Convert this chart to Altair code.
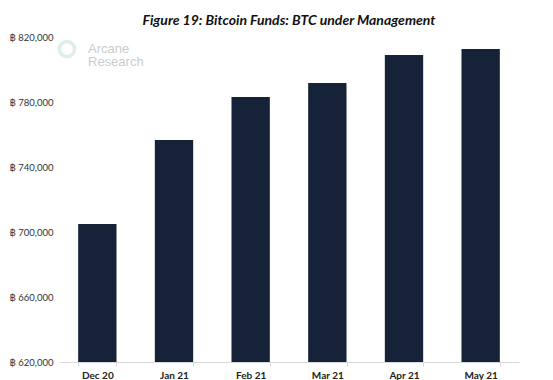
import altair as alt
import pandas as pd

months = ["Dec 20", "Jan 21", "Feb 21", "Mar 21", "Apr 21", "May 21"]
btc = [704900, 756600, 783100, 791700, 808900, 812600]
y_ticks = [620000, 660000, 700000, 740000, 780000, 820000]

df = pd.DataFrame({"month": months, "btc": btc})

bars = alt.Chart(df).mark_bar(color="#152238", clip=True).encode(
    x=alt.X(
        "month:N", sort=months, title=None,
        scale=alt.Scale(paddingInner=0.5, paddingOuter=0.25),
        axis=alt.Axis(labelAngle=0, labelFontWeight="bold", labelFontSize=10,
                      labelColor="#222222", labelPadding=4, labelFont="Lato",
                      domainColor="#d9d9d9", tickColor="#d9d9d9", tickSize=4,
                      tickBand="extent"),
    ),
    y=alt.Y(
        "btc:Q", title=None,
        scale=alt.Scale(domain=[620000, 820000], zero=False, nice=False),
        axis=alt.Axis(values=y_ticks, labelExpr="'\u0E3F ' + format(datum.value, ',')",
                      grid=False, domain=False, ticks=False, labelPadding=6,
                      labelFontSize=9.5, labelColor="#333333",
                      labelFont="Lato, DejaVu Sans"),
    ),
)

logo_df = pd.DataFrame({"t": ["Arcane\nResearch"]})
logo_text = alt.Chart(logo_df).mark_text(
    align="left", baseline="middle", fontSize=13, lineHeight=13, lineBreak="\n",
    color="#c9cccc", font="Liberation Sans"
).encode(x=alt.value(29), y=alt.value(12), text="t:N")

logo_ring = alt.Chart(pd.DataFrame({"a": [1]})).mark_point(
    shape="circle", filled=False, stroke="#cfe6e3", strokeWidth=3.5, size=230
).encode(x=alt.value(8), y=alt.value(12))

chart = alt.layer(bars, logo_ring, logo_text).properties(
    width=460, height=325,
    title=alt.TitleParams("Figure 19: Bitcoin Funds: BTC under Management",
                          font="Lato", fontSize=14, fontWeight="bold", fontStyle="italic",
                          color="#111111", anchor="middle", offset=4),
    autosize=alt.AutoSizeParams(type="none"),
    padding={"left": 51, "top": 29, "right": 20, "bottom": 18},
).configure_view(stroke=None)

chart.save("out.html", embed_options={"renderer": "svg", "actions": False})
